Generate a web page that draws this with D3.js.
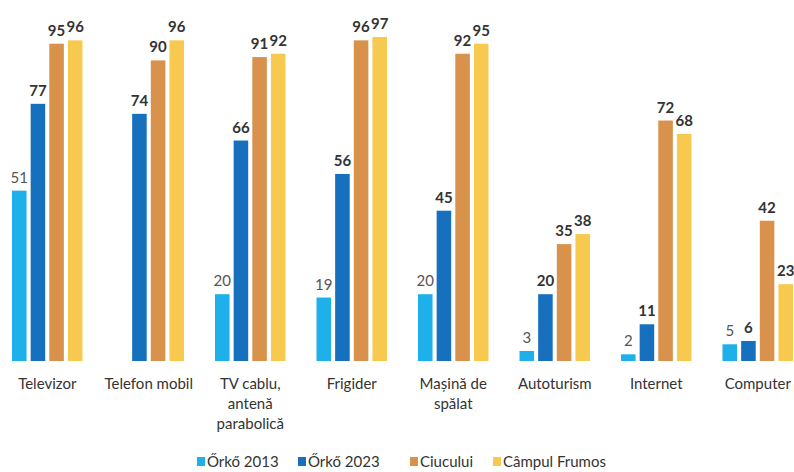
<!DOCTYPE html>
<html>
<head>
<meta charset="utf-8">
<script src="https://cdn.jsdelivr.net/npm/d3@7"></script>
<style>
	body { margin: 0; background: #fff; }
	svg { font-family: Lato, "Open Sans", sans-serif; }
</style>
</head>
<body>
<div id="chart"></div>
<script>
// Household items, share of households (%)
var categories = ['Televizor', 'Telefon mobil', 'TV cablu,|antenă|parabolică', 'Frigider',
	'Mașină de|spălat', 'Autoturism', 'Internet', 'Computer'];
var series = ['Őrkő 2013', 'Őrkő 2023', 'Ciucului', 'Câmpul Frumos'];
var orko2013 = [51, null, 20, 19, 20, 3, 2, 5];
var orko2023 = [77, 74, 66, 56, 45, 20, 11, 6];
var ciucului = [95, 90, 91, 96, 92, 35, 72, 42];
var campul = [96, 96, 92, 97, 95, 38, 68, 23];
var colors = ['#1eb0ea', '#1670bd', '#d8924b', '#f8c94f'];

var values = [orko2013, orko2023, ciucului, campul];
var width = 794, height = 472;

var svg = d3.select('#chart').append('svg')
	.attr('width', width).attr('height', height);

// Scales
var x = d3.scaleBand().domain(categories).range([12, 793])
	.paddingInner(0.3054).paddingOuter(0);
var xs = d3.scaleBand().domain(series).range([0, x.bandwidth()])
	.paddingInner(0.22).paddingOuter(0);
var y = d3.scaleLinear().domain([0, 100]).range([361, 27]);

// Flatten to one record per bar
var bars = [];
categories.forEach(function(c, i) {
	series.forEach(function(s, j) {
		if (values[j][i] != null) bars.push({ cat: c, ser: s, idx: j, v: values[j][i] });
	});
});

svg.selectAll('rect.bar').data(bars).enter().append('rect')
	.attr('class', 'bar')
	.attr('x', d => x(d.cat) + xs(d.ser))
	.attr('y', d => y(d.v))
	.attr('width', xs.bandwidth())
	.attr('height', d => y(0) - y(d.v))
	.style('fill', d => colors[d.idx]);

// Value labels
svg.selectAll('text.val').data(bars).enter().append('text')
	.attr('class', 'val')
	.attr('x', d => x(d.cat) + xs(d.ser) + xs.bandwidth() / 2)
	.attr('y', d => y(d.v) - 8)
	.attr('text-anchor', 'middle')
	.style('font-size', '15px')
	.style('font-weight', d => d.idx === 0 ? 400 : 700)
	.style('fill', d => d.idx === 0 ? '#555' : '#333')
	.text(d => d.v);

// Category labels (multi-line)
var cl = svg.selectAll('text.cat').data(categories).enter().append('text')
	.attr('class', 'cat')
	.attr('text-anchor', 'middle')
	.attr('transform', c => 'translate(' + (x(c) + x.bandwidth() / 2) + ',389)')
	.style('font-size', '15px')
	.style('fill', '#333');
cl.selectAll('tspan').data(c => c.split('|')).enter().append('tspan')
	.attr('x', 0).attr('dy', (d, i) => i === 0 ? 0 : 20)
	.text(d => d);

// Legend
var legendX = [197, 298, 410, 493];
var lg = svg.selectAll('g.legend').data(series).enter().append('g')
	.attr('class', 'legend')
	.attr('transform', (s, i) => 'translate(' + legendX[i] + ',462)');
lg.append('rect').attr('x', 0).attr('y', -5).attr('width', 8).attr('height', 9)
	.style('fill', (s, i) => colors[i]);
lg.append('text').attr('x', 10).attr('y', 5)
	.style('font-size', '15px').style('fill', '#333')
	.text(s => s);
</script>
</body>
</html>
